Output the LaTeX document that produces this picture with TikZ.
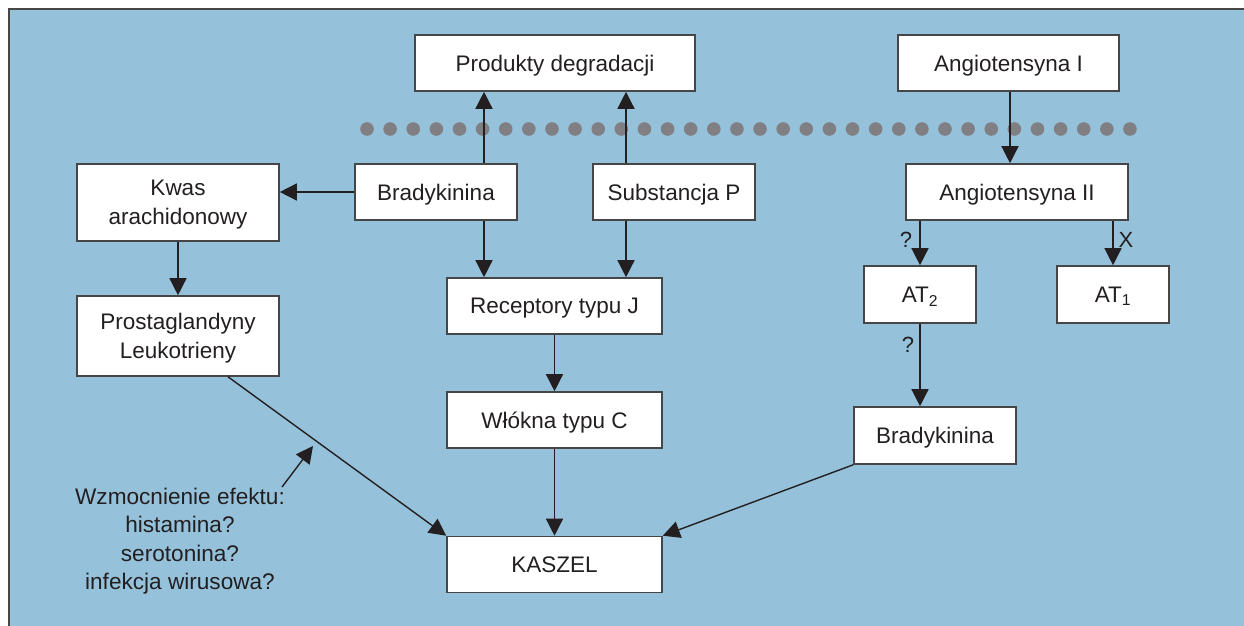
\documentclass[tikz,border=0pt]{standalone}
\usepackage{fontspec}
\setmainfont{Liberation Sans}
\usetikzlibrary{arrows.meta}
\definecolor{bgblue}{RGB}{149,194,218}
\definecolor{dotgray}{RGB}{128,128,132}
\definecolor{boxline}{RGB}{70,70,70}
\definecolor{arrline}{RGB}{35,31,32}
\begin{document}
\begin{tikzpicture}[x=1pt,y=-1pt,
  box/.style={draw=boxline,line width=1.6pt,fill=white,inner sep=0pt,align=center,
    text depth=0pt,text=arrline,font=\fontsize{22.5}{29}\selectfont},
  arr/.style={draw=arrline,line width=1.4pt,-{Triangle[length=17pt,width=17pt]}},
  lbl/.style={text=arrline,font=\fontsize{22}{25}\selectfont,inner sep=0pt}]
\useasboundingbox (0,0) rectangle (1244,626);
\fill[bgblue] (9,9) rectangle (1244,626);
\draw[boxline,line width=2pt] (9,626) -- (9,9) -- (1244,9);
% dotted separator
\foreach \i in {0,...,33} {\fill[dotgray] (367+\i*23.12,129) circle (6.8);}
% nodes
\node[box,minimum width=280,minimum height=56] (prod) at (555,63) {Produkty degradacji};
\node[box,minimum width=221,minimum height=56] (ang1) at (1008.5,63) {Angiotensyna I};
\node[box,minimum width=202,minimum height=77] (kwas) at (178,202.5) {Kwas\\arachidonowy};
\node[box,minimum width=162,minimum height=56] (brad1) at (436,192) {Bradykinina};
\node[box,minimum width=162,minimum height=56] (subp) at (674,192) {Substancja P};
\node[box,minimum width=222,minimum height=56] (ang2) at (1017,192) {Angiotensyna II};
\node[box,minimum width=112,minimum height=57] (at2) at (920,294.5) {AT\textsubscript{2}};
\node[box,minimum width=112,minimum height=57] (at1) at (1113,294.5) {AT\textsubscript{1}};
\node[box,minimum width=202,minimum height=80] (prost) at (178,336) {Prostaglandyny\\Leukotrieny};
\node[box,minimum width=215,minimum height=56] (rec) at (554.5,306) {Receptory typu J};
\node[box,minimum width=215,minimum height=56] (wl) at (554.5,420) {Włókna typu C};
\node[box,minimum width=162,minimum height=57] (brad2) at (935,435.5) {Bradykinina};
\node[box,minimum width=215,minimum height=56] (kas) at (554.5,564.5) {KASZEL};
% connectors
\draw[arr] ([xshift=48]brad1.north) -- ([xshift=48]brad1.north |- prod.south);
\draw[arr] ([xshift=-48]subp.north) -- ([xshift=-48]subp.north |- prod.south);
\draw[arr] (brad1.west) -- (brad1.west -| kwas.east);
\draw[arr] ([xshift=48]brad1.south) -- ([xshift=48]brad1.south |- rec.north);
\draw[arr] ([xshift=-48]subp.south) -- ([xshift=-48]subp.south |- rec.north);
\draw[arr] (kwas.south) -- (prost.north);
\draw[arr] (rec.south) -- (wl.north);
\draw[arr] (wl.south) -- (kas.north);
\draw[arr] ([xshift=50]prost.south) -- (kas.north west);
\draw[arr] (brad2.south west) -- (kas.north east);
\draw[arr] ([xshift=1.5]ang1.south) -- ([xshift=1.5]ang1.south |- ang2.north);
\draw[arr] (at2.north |- ang2.south) -- (at2.north);
\draw[arr] (at1.north |- ang2.south) -- (at1.north);
\draw[arr] (at2.south) -- (at2.south |- brad2.north);
% labels
\node[lbl] (q1) at (906,240) {?};
\node[lbl] (x1) at (1126,240) {X};
\node[lbl] (q2) at (908,345) {?};
\node[align=center,inner sep=0pt,text=arrline,font=\fontsize{22.6}{28.3}\selectfont] (wz) at (180,541)
  {Wzmocnienie efektu:\\histamina?\\serotonina?\\infekcja wirusowa?};
\coordinate (wzs) at (282,487);
\coordinate (wzt) at (313,446);
\draw[arr] (wzs) -- (wzt);
\end{tikzpicture}
\end{document}
